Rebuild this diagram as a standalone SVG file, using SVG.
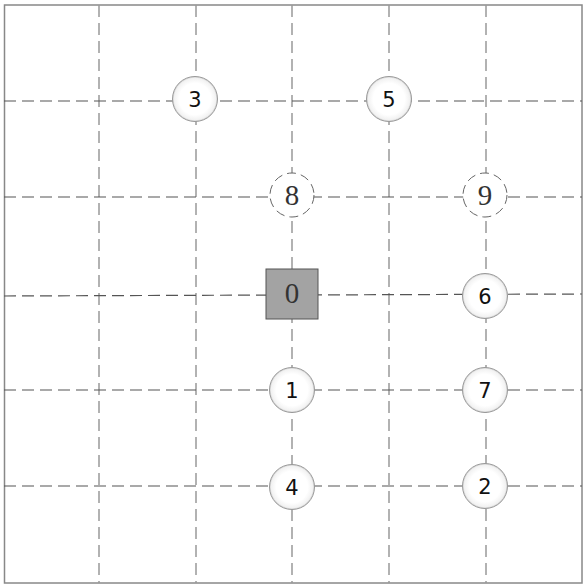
<svg xmlns="http://www.w3.org/2000/svg" width="586" height="588" viewBox="0 0 586 588">
<defs>
<radialGradient id="g" cx="50%" cy="50%" r="50%">
<stop offset="0.7" stop-color="#ffffff"/>
<stop offset="0.92" stop-color="#f2f2f2"/>
<stop offset="1" stop-color="#d0d0d0"/>
</radialGradient>
</defs>
<style>
.v{stroke:#999;stroke-width:1.5;stroke-dasharray:12 6;fill:none}
.h{stroke:#555;stroke-width:1.2;stroke-dasharray:12 6;fill:none}
.c{fill:url(#g);stroke:#999;stroke-width:1}
.d{fill:#fff;stroke:#666;stroke-width:1;stroke-dasharray:9 5}
.t{font-family:"DejaVu Sans",sans-serif;font-size:21px;fill:#111;text-anchor:middle}
.s{font-family:"Liberation Serif",serif;font-size:29px;fill:#333;text-anchor:middle}
</style>
<rect x="0" y="0" width="586" height="588" fill="#fff"/>
<rect x="4.5" y="5" width="577.5" height="578" fill="none" stroke="#888" stroke-width="1.5"/>
<g id="connectors">
<line class="v" x1="99" y1="5" x2="99" y2="583"/>
<line class="v" x1="196" y1="5" x2="196" y2="583"/>
<line class="v" x1="292" y1="5" x2="292" y2="583"/>
<line class="v" x1="389" y1="5" x2="389" y2="583"/>
<line class="v" x1="486" y1="5" x2="486" y2="583"/>
<line class="h" x1="4" y1="101" x2="582" y2="101"/>
<line class="h" x1="4" y1="197" x2="582" y2="197"/>
<line class="h" x1="4" y1="296" x2="582" y2="294"/>
<line class="h" x1="4" y1="390" x2="582" y2="390"/>
<line class="h" x1="4" y1="486" x2="582" y2="486"/>
</g>
<g id="n3"><circle class="c" cx="195" cy="99" r="22.5"/><text class="t" x="195" y="107">3</text></g>
<g id="n5"><circle class="c" cx="389" cy="99" r="22.5"/><text class="t" x="389" y="107">5</text></g>
<g id="n8"><circle class="d" cx="292" cy="195" r="22"/><text class="s" x="292" y="205">8</text></g>
<g id="n9"><circle class="d" cx="485" cy="195" r="22"/><text class="s" x="485" y="205">9</text></g>
<g id="n0"><rect x="266" y="269" width="52" height="50" fill="#a3a3a3" stroke="#555" stroke-width="1"/><text class="s" x="292" y="303">0</text></g>
<g id="n6"><circle class="c" cx="485" cy="296" r="22.5"/><text class="t" x="485" y="304">6</text></g>
<g id="n1"><circle class="c" cx="292" cy="390" r="22.5"/><text class="t" x="292" y="398">1</text></g>
<g id="n7"><circle class="c" cx="485" cy="390" r="22.5"/><text class="t" x="485" y="398">7</text></g>
<g id="n4"><circle class="c" cx="292" cy="487" r="22.5"/><text class="t" x="292" y="495">4</text></g>
<g id="n2"><circle class="c" cx="485" cy="486" r="22.5"/><text class="t" x="485" y="494">2</text></g>
</svg>
